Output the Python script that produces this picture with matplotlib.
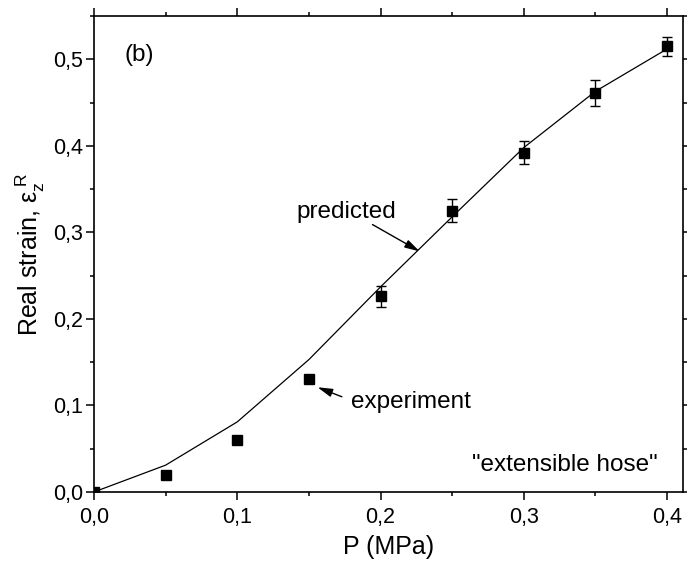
import numpy as np
import matplotlib.pyplot as plt
from matplotlib.ticker import MultipleLocator, FuncFormatter

plt.rcParams['font.family'] = ['Liberation Sans', 'DejaVu Sans']
plt.rcParams['mathtext.fontset'] = 'custom'
plt.rcParams['mathtext.rm'] = 'Liberation Sans'
plt.rcParams['mathtext.it'] = 'Liberation Sans:italic'

# predicted curve
p_pred = [0.0, 0.05, 0.1, 0.15, 0.2, 0.25, 0.3, 0.35, 0.4]
eps_pred = [0.0, 0.031, 0.081, 0.153, 0.237, 0.318, 0.398, 0.463, 0.512]

# experiment
p_exp = [0.0, 0.05, 0.1, 0.15, 0.2, 0.25, 0.3, 0.35, 0.4]
eps_exp = [0.0, 0.020, 0.060, 0.131, 0.226, 0.325, 0.392, 0.461, 0.515]
eps_err = [0.0, 0.0, 0.0, 0.0, 0.012, 0.013, 0.013, 0.0145, 0.011]

fig = plt.figure(figsize=(6.87, 5.72), dpi=100)
ax = fig.add_axes([0.1368, 0.1399, 0.8572, 0.8321])

ax.plot(p_pred, eps_pred, color='k', lw=0.9)
ax.errorbar(p_exp, eps_exp, yerr=eps_err, fmt='s', color='k', ms=7.5,
            ecolor='k', elinewidth=1, capsize=3.5, capthick=1)

ax.set_xlim(0, 0.411)
ax.set_ylim(0, 0.55)
ax.xaxis.set_major_locator(MultipleLocator(0.1))
ax.xaxis.set_minor_locator(MultipleLocator(0.05))
ax.yaxis.set_major_locator(MultipleLocator(0.1))
ax.yaxis.set_minor_locator(MultipleLocator(0.05))
comma = FuncFormatter(lambda v, pos: ('%.1f' % v).replace('.', ','))
ax.xaxis.set_major_formatter(comma)
ax.yaxis.set_major_formatter(comma)

for s in ax.spines.values():
    s.set_linewidth(1.2)
ax.tick_params(which='both', direction='out', top=True, right=True, width=1.1)
ax.tick_params(which='major', length=5.5, labelsize=15.5)
ax.tick_params(axis='x', which='major', pad=5)
ax.tick_params(axis='y', which='major', pad=2.5)
ax.tick_params(which='minor', length=2.8)

ax.set_xlabel('P (MPa)', fontsize=18, labelpad=5)
ax.set_ylabel(r'Real strain, ε$_\mathrm{z}^{\ \mathrm{R}}$', fontsize=18, labelpad=4)

arrow = dict(arrowstyle='-|>,head_length=0.9,head_width=0.25', color='k', lw=1,
             mutation_scale=10, shrinkA=0, shrinkB=0)
ax.text(0.021, 0.505, '(b)', fontsize=17.5, va='center', ha='left')
ax.text(0.1413, 0.324, 'predicted', fontsize=17.5, ha='left', va='center')
ax.annotate('', xy=(0.2273, 0.278), xytext=(0.1944, 0.309), arrowprops=arrow)
ax.text(0.1797, 0.104, 'experiment', fontsize=17.5, ha='left', va='center')
ax.annotate('', xy=(0.156, 0.121), xytext=(0.173, 0.110), arrowprops=arrow)
ax.text(0.3937, 0.031, '"extensible hose"', fontsize=17.5, ha='right', va='center')

fig.savefig('out.png', dpi=100)
